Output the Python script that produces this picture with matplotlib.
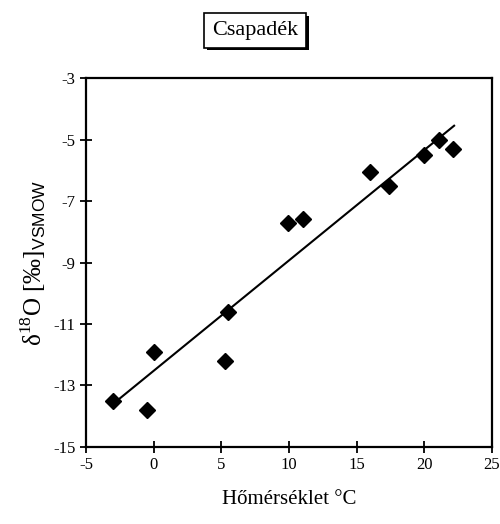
import matplotlib
matplotlib.use("Agg")
from matplotlib import pyplot as plt
import matplotlib.patheffects as pe

temp = [-3.0, -0.5, 0.0, 5.3, 5.5, 9.9, 11.0, 16.0, 17.4, 20.0, 21.1, 22.1]
d18o = [-13.5, -13.8, -11.9, -12.2, -10.6, -7.7, -7.6, -6.05, -6.5, -5.5, -5.0, -5.3]
trend_x = [-3.0, 22.2]
trend_y = [-13.6, -4.55]

plt.rcParams['font.family'] = ['Liberation Serif', 'DejaVu Serif']
plt.rcParams['axes.unicode_minus'] = False
plt.rcParams['mathtext.fontset'] = 'custom'
plt.rcParams['mathtext.rm'] = 'Liberation Serif'
plt.rcParams['mathtext.sf'] = 'Liberation Sans'

fig = plt.figure(figsize=(5, 5.24), dpi=100)
ax = fig.add_axes([0.172, 0.147, 0.812, 0.704])

ax.plot(trend_x, trend_y, color='black', lw=1.5)
ax.plot(temp, d18o, 'D', color='black', ms=8)

ax.set_xlim(-5, 25)
ax.set_ylim(-15, -3)
ax.set_xticks(range(-5, 26, 5))
ax.set_yticks(range(-15, -2, 2))
ax.tick_params(direction='inout', length=8, width=1.3, labelsize=12)
for s in ax.spines.values():
    s.set_linewidth(1.6)

ax.set_xlabel('Hőmérséklet °C', fontsize=15, labelpad=12)
ax.set_ylabel(r'δ$^{\mathrm{18}}$O [‰]$_{\mathsf{VSMOW}}$', fontsize=18, labelpad=4)

t = fig.text(0.51, 0.942, 'Csapadék', ha='center', va='center', fontsize=16,
             bbox=dict(boxstyle='square,pad=0.35', fc='white', ec='black', lw=1.2))
t.get_bbox_patch().set_path_effects([pe.SimplePatchShadow(offset=(2, -2), shadow_rgbFace='black', alpha=1), pe.Normal()])

fig.savefig('out.png', dpi=100)
